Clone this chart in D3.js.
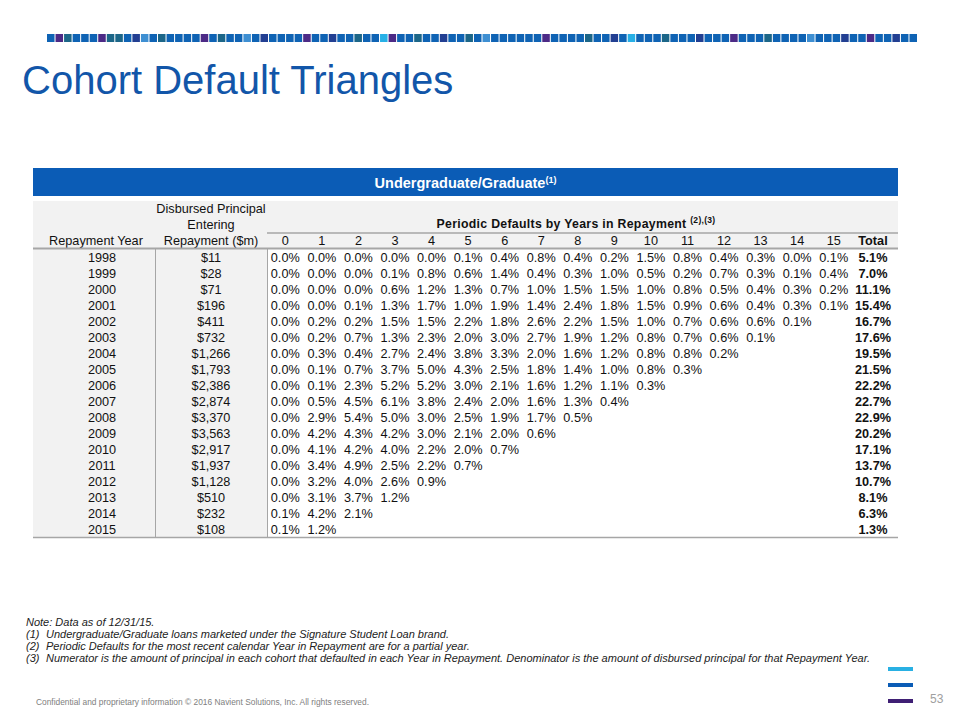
<!DOCTYPE html>
<html lang="en">
<head>
<meta charset="utf-8">
<script src="https://d3js.org/d3.v7.min.js"></script>
<style>
  body { margin: 0; background: #fff; }
  svg { display: block; font-family: Arial, "Liberation Sans", sans-serif; }
</style>
</head>
<body>
<svg id="chart"></svg>
<script>
// cohort rows
var years = [1998, 1999, 2000, 2001, 2002, 2003, 2004, 2005, 2006, 2007, 2008, 2009, 2010, 2011, 2012, 2013, 2014, 2015];
var disbursed = ["$11", "$28", "$71", "$196", "$411", "$732", "$1,266", "$1,793", "$2,386", "$2,874", "$3,370", "$3,563", "$2,917", "$1,937", "$1,128", "$510", "$232", "$108"];
var periods = ["0", "1", "2", "3", "4", "5", "6", "7", "8", "9", "10", "11", "12", "13", "14", "15"];

// periodic defaults (%) by years in repayment
var defaults = [
  [0.0, 0.0, 0.0, 0.0, 0.0, 0.1, 0.4, 0.8, 0.4, 0.2, 1.5, 0.8, 0.4, 0.3, 0.0, 0.1],
  [0.0, 0.0, 0.0, 0.1, 0.8, 0.6, 1.4, 0.4, 0.3, 1.0, 0.5, 0.2, 0.7, 0.3, 0.1, 0.4],
  [0.0, 0.0, 0.0, 0.6, 1.2, 1.3, 0.7, 1.0, 1.5, 1.5, 1.0, 0.8, 0.5, 0.4, 0.3, 0.2],
  [0.0, 0.0, 0.1, 1.3, 1.7, 1.0, 1.9, 1.4, 2.4, 1.8, 1.5, 0.9, 0.6, 0.4, 0.3, 0.1],
  [0.0, 0.2, 0.2, 1.5, 1.5, 2.2, 1.8, 2.6, 2.2, 1.5, 1.0, 0.7, 0.6, 0.6, 0.1],
  [0.0, 0.2, 0.7, 1.3, 2.3, 2.0, 3.0, 2.7, 1.9, 1.2, 0.8, 0.7, 0.6, 0.1],
  [0.0, 0.3, 0.4, 2.7, 2.4, 3.8, 3.3, 2.0, 1.6, 1.2, 0.8, 0.8, 0.2],
  [0.0, 0.1, 0.7, 3.7, 5.0, 4.3, 2.5, 1.8, 1.4, 1.0, 0.8, 0.3],
  [0.0, 0.1, 2.3, 5.2, 5.2, 3.0, 2.1, 1.6, 1.2, 1.1, 0.3],
  [0.0, 0.5, 4.5, 6.1, 3.8, 2.4, 2.0, 1.6, 1.3, 0.4],
  [0.0, 2.9, 5.4, 5.0, 3.0, 2.5, 1.9, 1.7, 0.5],
  [0.0, 4.2, 4.3, 4.2, 3.0, 2.1, 2.0, 0.6],
  [0.0, 4.1, 4.2, 4.0, 2.2, 2.0, 0.7],
  [0.0, 3.4, 4.9, 2.5, 2.2, 0.7],
  [0.0, 3.2, 4.0, 2.6, 0.9],
  [0.0, 3.1, 3.7, 1.2],
  [0.1, 4.2, 2.1],
  [0.1, 1.2]
];
var totals = [5.1, 7.0, 11.1, 15.4, 16.7, 17.6, 19.5, 21.5, 22.2, 22.7, 22.9, 20.2, 17.1, 13.7, 10.7, 8.1, 6.3, 1.3];

var noteLabels = ["", "(1)", "(2)", "(3)"];
var noteTexts = [
  "Note: Data as of 12/31/15.",
  "Undergraduate/Graduate loans marketed under the Signature Student Loan brand.",
  "Periodic Defaults for the most recent calendar Year in Repayment are for a partial year.",
  "Numerator is the amount of principal in each cohort that defaulted in each Year in Repayment.  Denominator is the amount of disbursed principal for that Repayment Year."
];

var width = 960, height = 720;
var fmt = function (v) { return d3.format(".1f")(v) + "%"; };

var svg = d3.select("#chart").attr("width", width).attr("height", height);
svg.append("rect").attr("width", width).attr("height", height).attr("fill", "#fff");

// decorative square band at top
var bandColors = { b: "#0f63b4", n: "#223f92", p: "#4c2a86", t: "#1c6688", l: "#3e8fd2", c: "#27b0e6" };
var bandSeq = "bptbbbpttbnlbtbbbbpbtbblbnbbbbpbbnbbtbbcpbbtbbnbbtblbbbbbbpbbbbtbbnbcbbbtbbbnbbbpbbbtbbbblbbbnbbpbbnbb".split("");
var bx = d3.scaleBand().domain(d3.range(bandSeq.length)).range([47, 917]).paddingInner(0.12);
svg.append("g").selectAll("rect").data(bandSeq).enter().append("rect")
  .attr("x", function (d, i) { return bx(i); })
  .attr("y", 34).attr("width", bx.bandwidth()).attr("height", 8)
  .attr("fill", function (d) { return bandColors[d]; });

// title
svg.append("text").attr("x", 22).attr("y", 94)
  .attr("font-size", 40).attr("fill", "#1256a9")
  .text("Cohort Default Triangles");

// table geometry
var tLeft = 33, tRight = 898, colYear = 155, colDisb = 267, colEnd = 852;
var x = d3.scaleBand().domain(periods).range([colDisb, colEnd]);
var y = d3.scaleBand().domain(years).range([249, 537]);
var totalX = (colEnd + tRight) / 2 - 2;

// blue header bar
svg.append("rect").attr("x", tLeft).attr("y", 168).attr("width", tRight - tLeft).attr("height", 28)
  .attr("fill", "#0b5cb6");
var hb = svg.append("text").attr("x", (tLeft + tRight) / 2).attr("y", 188)
  .attr("text-anchor", "middle").attr("fill", "#fff").attr("font-weight", "bold").attr("font-size", 14.5);
hb.append("tspan").text("Undergraduate/Graduate");
hb.append("tspan").attr("font-size", 9).attr("dy", -5).text("(1)");

// gray backgrounds
svg.append("rect").attr("x", tLeft).attr("y", 201).attr("width", tRight - tLeft).attr("height", 48).attr("fill", "#f2f2f2");
svg.append("rect").attr("x", tLeft).attr("y", 249).attr("width", colDisb - tLeft).attr("height", 288).attr("fill", "#f2f2f2");

// header texts
var hdr = svg.append("g").attr("font-size", 12.7).attr("fill", "#111").attr("text-anchor", "middle");
hdr.append("text").attr("x", 96).attr("y", 245).text("Repayment Year");
hdr.append("text").attr("x", (colYear + colDisb) / 2).attr("y", 213).text("Disbursed Principal");
hdr.append("text").attr("x", (colYear + colDisb) / 2).attr("y", 229).text("Entering");
hdr.append("text").attr("x", (colYear + colDisb) / 2).attr("y", 245).text("Repayment ($m)");
var pd = hdr.append("text").attr("x", 576).attr("y", 228).attr("font-weight", "bold").attr("font-size", 12.3).attr("letter-spacing", 0.3);
pd.append("tspan").text("Periodic Defaults by Years in Repayment ");
pd.append("tspan").attr("font-size", 8.5).attr("dy", -5).text("(2),(3)");

hdr.selectAll(".period").data(periods).enter().append("text")
  .attr("class", "period")
  .attr("x", function (d) { return x(d) + x.bandwidth() / 2; })
  .attr("y", 245).text(function (d) { return d; });
hdr.append("text").attr("x", totalX).attr("y", 245).attr("font-weight", "bold").text("Total");

// rule lines
var lines = svg.append("g").attr("stroke", "#a6a6a6");
lines.append("line").attr("x1", colDisb).attr("x2", tRight).attr("y1", 233).attr("y2", 233).attr("stroke-width", 1.5);
lines.append("line").attr("x1", tLeft).attr("x2", tRight).attr("y1", 248.5).attr("y2", 248.5).attr("stroke-width", 2);
lines.append("line").attr("x1", tLeft).attr("x2", tRight).attr("y1", 537.5).attr("y2", 537.5).attr("stroke-width", 1.5);
lines.append("line").attr("x1", colYear + 0.5).attr("x2", colYear + 0.5).attr("y1", 249).attr("y2", 537);
lines.append("line").attr("x1", colDisb + 0.5).attr("x2", colDisb + 0.5).attr("y1", 249).attr("y2", 537);

// body rows
var body = svg.append("g").attr("font-size", 12.7).attr("fill", "#111").attr("text-anchor", "middle");
var rowY = function (yr) { return y(yr) + y.bandwidth() / 2 + 4.5; };

body.selectAll(".yr").data(years).enter().append("text")
  .attr("x", 102).attr("y", rowY).text(function (d) { return d; });
body.selectAll(".disb").data(disbursed).enter().append("text")
  .attr("x", (colYear + colDisb) / 2).attr("y", function (d, i) { return rowY(years[i]); })
  .text(function (d) { return d; });

var cells = [];
defaults.forEach(function (row, i) {
  row.forEach(function (v, j) { cells.push({ year: years[i], col: periods[j], v: v }); });
});
body.selectAll(".cell").data(cells).enter().append("text")
  .attr("x", function (d) { return x(d.col) + x.bandwidth() / 2; })
  .attr("y", function (d) { return rowY(d.year); })
  .text(function (d) { return fmt(d.v); });

body.selectAll(".tot").data(totals).enter().append("text")
  .attr("x", totalX).attr("y", function (d, i) { return rowY(years[i]); })
  .attr("font-weight", "bold").text(function (d) { return fmt(d); });

// footnotes
var notes = svg.append("g").attr("font-size", 11).attr("font-style", "italic").attr("fill", "#222");
noteTexts.forEach(function (t, i) {
  var yy = 626 + i * 12;
  if (noteLabels[i]) {
    notes.append("text").attr("x", 26).attr("y", yy).text(noteLabels[i]);
    notes.append("text").attr("x", 46).attr("y", yy).text(t);
  } else {
    notes.append("text").attr("x", 26).attr("y", yy).text(t);
  }
});

// footer
svg.append("text").attr("x", 36).attr("y", 705).attr("font-size", 8.4).attr("fill", "#808080")
  .text("Confidential and proprietary information  \u00a9 2016 Navient Solutions, Inc. All rights reserved.");
svg.append("text").attr("x", 930).attr("y", 703).attr("font-size", 12).attr("fill", "#a0a0a0").text("53");

// logo bars
var logo = [["#29b0e3", 667], ["#0b5cb6", 683], ["#3f1f74", 699]];
svg.append("g").selectAll("rect").data(logo).enter().append("rect")
  .attr("x", 888).attr("width", 25).attr("height", 4)
  .attr("y", function (d) { return d[1]; }).attr("fill", function (d) { return d[0]; });
</script>
</body>
</html>
